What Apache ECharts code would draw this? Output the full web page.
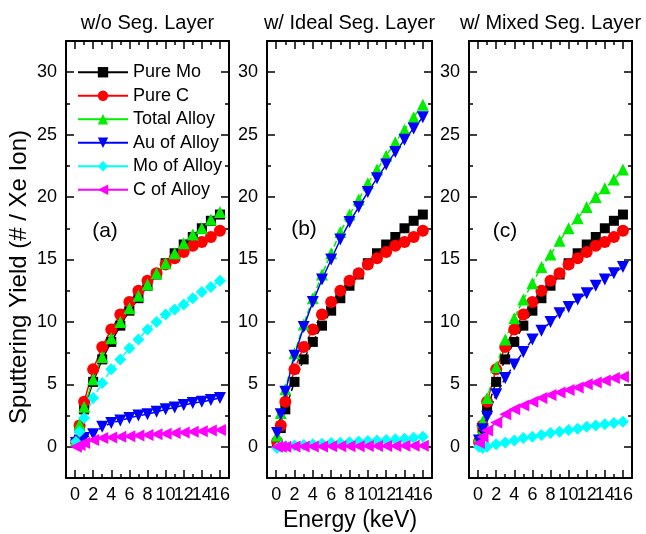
<!DOCTYPE html>
<html>
<head>
<meta charset="utf-8">
<script src="https://cdn.jsdelivr.net/npm/echarts@6/dist/echarts.min.js"></script>
<style>
  html, body { margin: 0; padding: 0; background: #fff; }
  #main { width: 646px; height: 534px; }
</style>
</head>
<body>
<div id="main"></div>
<script>
var FONT = '"Liberation Sans", Arial, sans-serif';

// incident energy (keV)
var energy = [0.1, 0.5, 1, 2, 3, 4, 5, 6, 7, 8, 9, 10, 11, 12, 13, 14, 15, 16];

// reference targets, same in every panel
var pureMo = [0.3, 1.5, 3.0, 5.2, 7.0, 8.4, 9.7, 10.9, 11.9, 12.9, 13.8, 14.7, 15.5, 16.2, 16.8, 17.5, 18.1, 18.6];
var pureC = [0.4, 1.7, 3.6, 6.2, 8.0, 9.4, 10.6, 11.6, 12.5, 13.3, 13.9, 14.6, 15.1, 15.6, 16.1, 16.4, 16.8, 17.3];

// (a) w/o seg. layer
var totalAlloyA = [0.5, 1.8, 3.2, 5.4, 7.2, 8.7, 10.0, 11.1, 12.1, 13.0, 13.9, 14.7, 15.5, 16.3, 17.0, 17.5, 18.2, 18.8];
var auAlloyA = [0.3, 0.5, 0.7, 1.0, 1.6, 1.9, 2.1, 2.3, 2.5, 2.6, 2.8, 3.0, 3.15, 3.35, 3.5, 3.6, 3.75, 3.9];
var moAlloyA = [0.4, 1.2, 2.3, 3.9, 5.1, 6.2, 7.0, 7.9, 8.6, 9.4, 10.0, 10.6, 11.0, 11.4, 11.9, 12.4, 12.8, 13.3];
var cAlloyA = [0.0, 0.15, 0.3, 0.55, 0.7, 0.75, 0.8, 0.85, 0.9, 0.95, 1.0, 1.05, 1.1, 1.15, 1.2, 1.25, 1.3, 1.35];

// (b) w/ ideal seg. layer
var totalAlloyB = [0.9, 2.7, 4.6, 7.5, 9.8, 11.9, 13.8, 15.5, 17.2, 18.6, 19.8, 21.1, 22.2, 23.3, 24.4, 25.4, 26.4, 27.4];
var auAlloyB = [1.1, 2.6, 4.4, 7.3, 9.6, 11.6, 13.4, 15.0, 16.6, 18.0, 19.2, 20.4, 21.5, 22.6, 23.6, 24.6, 25.5, 26.4];
var moAlloyB = [-0.1, 0.0, 0.05, 0.1, 0.15, 0.2, 0.25, 0.3, 0.33, 0.37, 0.42, 0.46, 0.5, 0.55, 0.6, 0.65, 0.72, 0.8];
var cAlloyB = [0.0, 0.0, 0.01, 0.02, 0.02, 0.03, 0.03, 0.04, 0.04, 0.05, 0.05, 0.06, 0.06, 0.07, 0.07, 0.08, 0.08, 0.09];

// (c) w/ mixed seg. layer
var totalAlloyC = [0.8, 2.0, 3.9, 6.4, 8.6, 10.3, 11.8, 13.1, 14.4, 15.4, 16.5, 17.5, 18.3, 19.2, 20.0, 20.7, 21.4, 22.2];
var auAlloyC = [0.5, 1.4, 2.4, 4.2, 5.5, 6.6, 7.6, 8.6, 9.3, 10.0, 10.7, 11.2, 11.8, 12.3, 12.9, 13.4, 13.9, 14.4];
var moAlloyC = [0.0, -0.1, 0.0, 0.2, 0.35, 0.5, 0.7, 0.8, 0.95, 1.1, 1.2, 1.35, 1.45, 1.6, 1.7, 1.8, 1.9, 2.0];
var cAlloyC = [0.3, 0.8, 1.3, 1.95, 2.6, 3.0, 3.3, 3.6, 3.9, 4.15, 4.35, 4.55, 4.75, 5.0, 5.15, 5.3, 5.5, 5.6];

var seriesNames = ['Pure Mo', 'Pure C', 'Total Alloy', 'Au of Alloy', 'Mo of Alloy', 'C of Alloy'];
var panelTitles = ['w/o Seg. Layer', 'w/ Ideal Seg. Layer', 'w/ Mixed Seg. Layer'];
var panelTags = ['(a)', '(b)', '(c)'];
// x labels split over two stacked axes so none get dropped as overlapping
var xMajor = [0, 2, 4, 6, 8, 10, 12, 14, 16];
var xMinor = [1, 3, 5, 7, 9, 11, 13, 15];
var xLabelsA = [0, 4, 8, 12, 16];
var xLabelsB = [2, 6, 10, 14];
var yMajor = [0, 5, 10, 15, 20, 25, 30];
var yMinor = [2.5, 7.5, 12.5, 17.5, 22.5, 27.5];

var panelData = [
  [pureMo, pureC, totalAlloyA, auAlloyA, moAlloyA, cAlloyA],
  [pureMo, pureC, totalAlloyB, auAlloyB, moAlloyB, cAlloyB],
  [pureMo, pureC, totalAlloyC, auAlloyC, moAlloyC, cAlloyC]
];

var colors = ['#000000', '#ff0000', '#00ee00', '#0000ff', '#00ffff', '#ff00ff'];
var symbols = ['rect', 'circle', 'triangle', 'triangle', 'diamond', 'triangle'];
var symbolRotates = [0, 0, 0, 180, 0, 90];
var symbolSizes = [10, 12, 12, 12, 12, 12];
var lineTypes = [
  ['solid', 'solid', 'solid', 'dashed', 'dashed', 'solid'],
  ['dashed', 'dashed', 'dashed', 'solid', 'dashed', 'solid'],
  ['dashed', 'solid', 'dashed', 'dashed', 'dashed', 'solid']
];

var grids = [
  { left: 66, top: 41, width: 163, height: 437 },
  { left: 267, top: 41, width: 165, height: 437 },
  { left: 469, top: 41, width: 163, height: 437 }
];

var black = { color: '#000', width: 1.5 };

function makeAxes(g, dim) {
  var isX = dim === 'x';
  var base = {
    gridIndex: g, type: 'value',
    min: isX ? -1 : -2.5, max: isX ? 17 : 32.5,
    splitLine: { show: false }
  };
  var major = isX ? xMajor : yMajor;
  var minor = isX ? xMinor : yMinor;
  var labels1 = isX ? xLabelsA : yMajor;
  var labels2 = isX ? xLabelsB : null;
  var sides = isX ? ['bottom', 'top'] : ['left', 'right'];
  var labelStyle = {
    margin: isX ? 8 : 9, showMinLabel: true, showMaxLabel: true,
    fontSize: 18, color: '#000', fontFamily: FONT
  };
  var out = [];
  sides.forEach(function (side, s) {
    out.push(Object.assign({}, base, {
      position: side,
      axisLine: { show: true, onZero: false, lineStyle: { color: '#000', width: 2 } },
      axisTick: { show: true, inside: true, length: 8, customValues: major, lineStyle: black },
      axisLabel: Object.assign({ show: s === 0, customValues: labels1 }, labelStyle)
    }));
    out.push(Object.assign({}, base, {
      position: side,
      axisLine: { show: false, onZero: false },
      axisTick: { show: true, inside: true, length: 4, customValues: minor, lineStyle: black },
      axisLabel: labels2 && s === 0
        ? Object.assign({ show: true, customValues: labels2 }, labelStyle)
        : { show: false }
    }));
  });
  return out;
}

var xAxes = [], yAxes = [], series = [], graphics = [];
grids.forEach(function (gr, g) {
  xAxes = xAxes.concat(makeAxes(g, 'x'));
  yAxes = yAxes.concat(makeAxes(g, 'y'));
  panelData[g].forEach(function (vals, k) {
    series.push({
      name: seriesNames[k],
      type: 'line',
      xAxisIndex: g * 4,
      yAxisIndex: g * 4,
      data: energy.map(function (e, i) { return [e, vals[i]]; }),
      symbol: symbols[k],
      symbolSize: symbolSizes[k],
      symbolRotate: symbolRotates[k],
      showAllSymbol: true,
      itemStyle: { color: colors[k] },
      lineStyle: { color: colors[k], width: 1.5, type: lineTypes[g][k] }
    });
  });
  graphics.push({
    type: 'text', x: gr.left + gr.width / 2, y: 23,
    style: { text: panelTitles[g], font: '20px ' + FONT, fill: '#000', textAlign: 'center', textVerticalAlign: 'middle' }
  });
});

graphics.push(
  { type: 'text', x: 105, y: 231, style: { text: panelTags[0], font: '21px ' + FONT, fill: '#000', textAlign: 'center', textVerticalAlign: 'middle' } },
  { type: 'text', x: 304, y: 229, style: { text: panelTags[1], font: '21px ' + FONT, fill: '#000', textAlign: 'center', textVerticalAlign: 'middle' } },
  { type: 'text', x: 505, y: 231, style: { text: panelTags[2], font: '21px ' + FONT, fill: '#000', textAlign: 'center', textVerticalAlign: 'middle' } },
  { type: 'text', x: 350, y: 521, style: { text: 'Energy (keV)', font: '23px ' + FONT, fill: '#000', textAlign: 'center', textVerticalAlign: 'middle' } },
  { type: 'text', x: 19, y: 277, rotation: Math.PI / 2, style: { text: 'Sputtering Yield (# / Xe Ion)', font: '24px ' + FONT, fill: '#000', textAlign: 'center', textVerticalAlign: 'middle' } }
);

var myChart = echarts.init(document.getElementById('main'));
myChart.setOption({
  animation: false,
  backgroundColor: '#fff',
  grid: grids,
  xAxis: xAxes,
  yAxis: yAxes,
  legend: {
    orient: 'vertical',
    left: 72, top: 58,
    itemWidth: 50, itemHeight: 13, itemGap: 5,
    selectedMode: false,
    lineStyle: { type: 'solid', width: 2 },
    textStyle: { fontSize: 18, color: '#000', fontFamily: FONT, lineHeight: 18.5 },
    data: seriesNames
  },
  graphic: graphics,
  series: series
});
</script>
</body>
</html>
